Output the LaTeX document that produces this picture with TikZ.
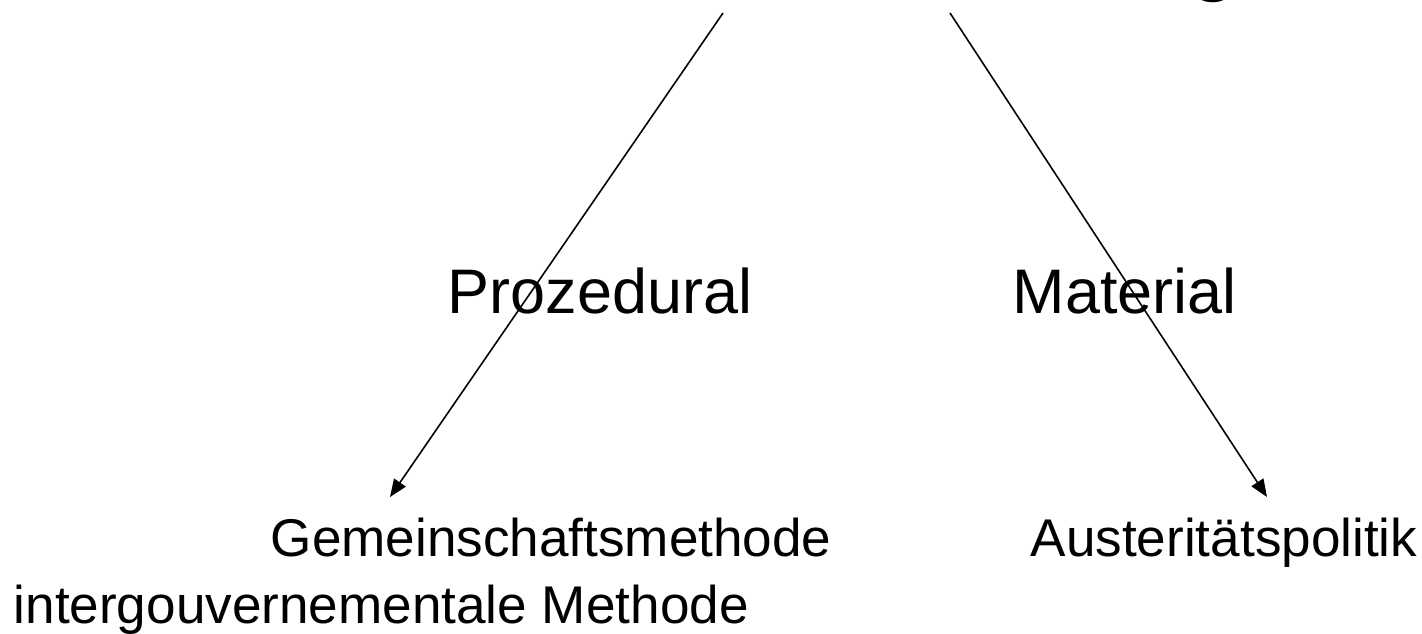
\documentclass[tikz,border=0pt]{standalone}
\usepackage{fontspec}
\setmainfont{Liberation Sans}
\usetikzlibrary{arrows.meta}
\begin{document}
\begin{tikzpicture}[x=0.01cm,y=-0.01cm,
  lbl/.style={inner sep=0pt,anchor=base west,font=\fontsize{15.1pt}{18pt}\selectfont},
  head/.style={inner sep=0pt,anchor=base west,font=\fontsize{17.9pt}{21pt}\selectfont},
  arr/.style={line width=0.45pt,-{Triangle[length=5pt,width=4pt]}}]
\useasboundingbox (0,0) rectangle (1422,633);
\clip (0,0) rectangle (1422,633);
\node[inner sep=0pt,anchor=base west,font=\fontsize{25pt}{30pt}\selectfont] (title) at (1189,-16) {g};
\node[head] (proz) at (447,313) {Prozedural};
\node[head] (mat) at (1012,313) {Material};
\node[lbl] (gem) at (270,556) {Gemeinschaftsmethode};
\node[lbl] (inter) at (13,623) {intergouvernementale Methode};
\node[lbl] (aust) at (1030,556) {Austeritätspolitik};
\coordinate (ls) at (723,13);
\coordinate (le) at (390,497);
\coordinate (rs) at (950,13);
\coordinate (re) at (1267,497);
\draw[arr] (ls) -- (le);
\draw[arr] (rs) -- (re);
\end{tikzpicture}
\end{document}
